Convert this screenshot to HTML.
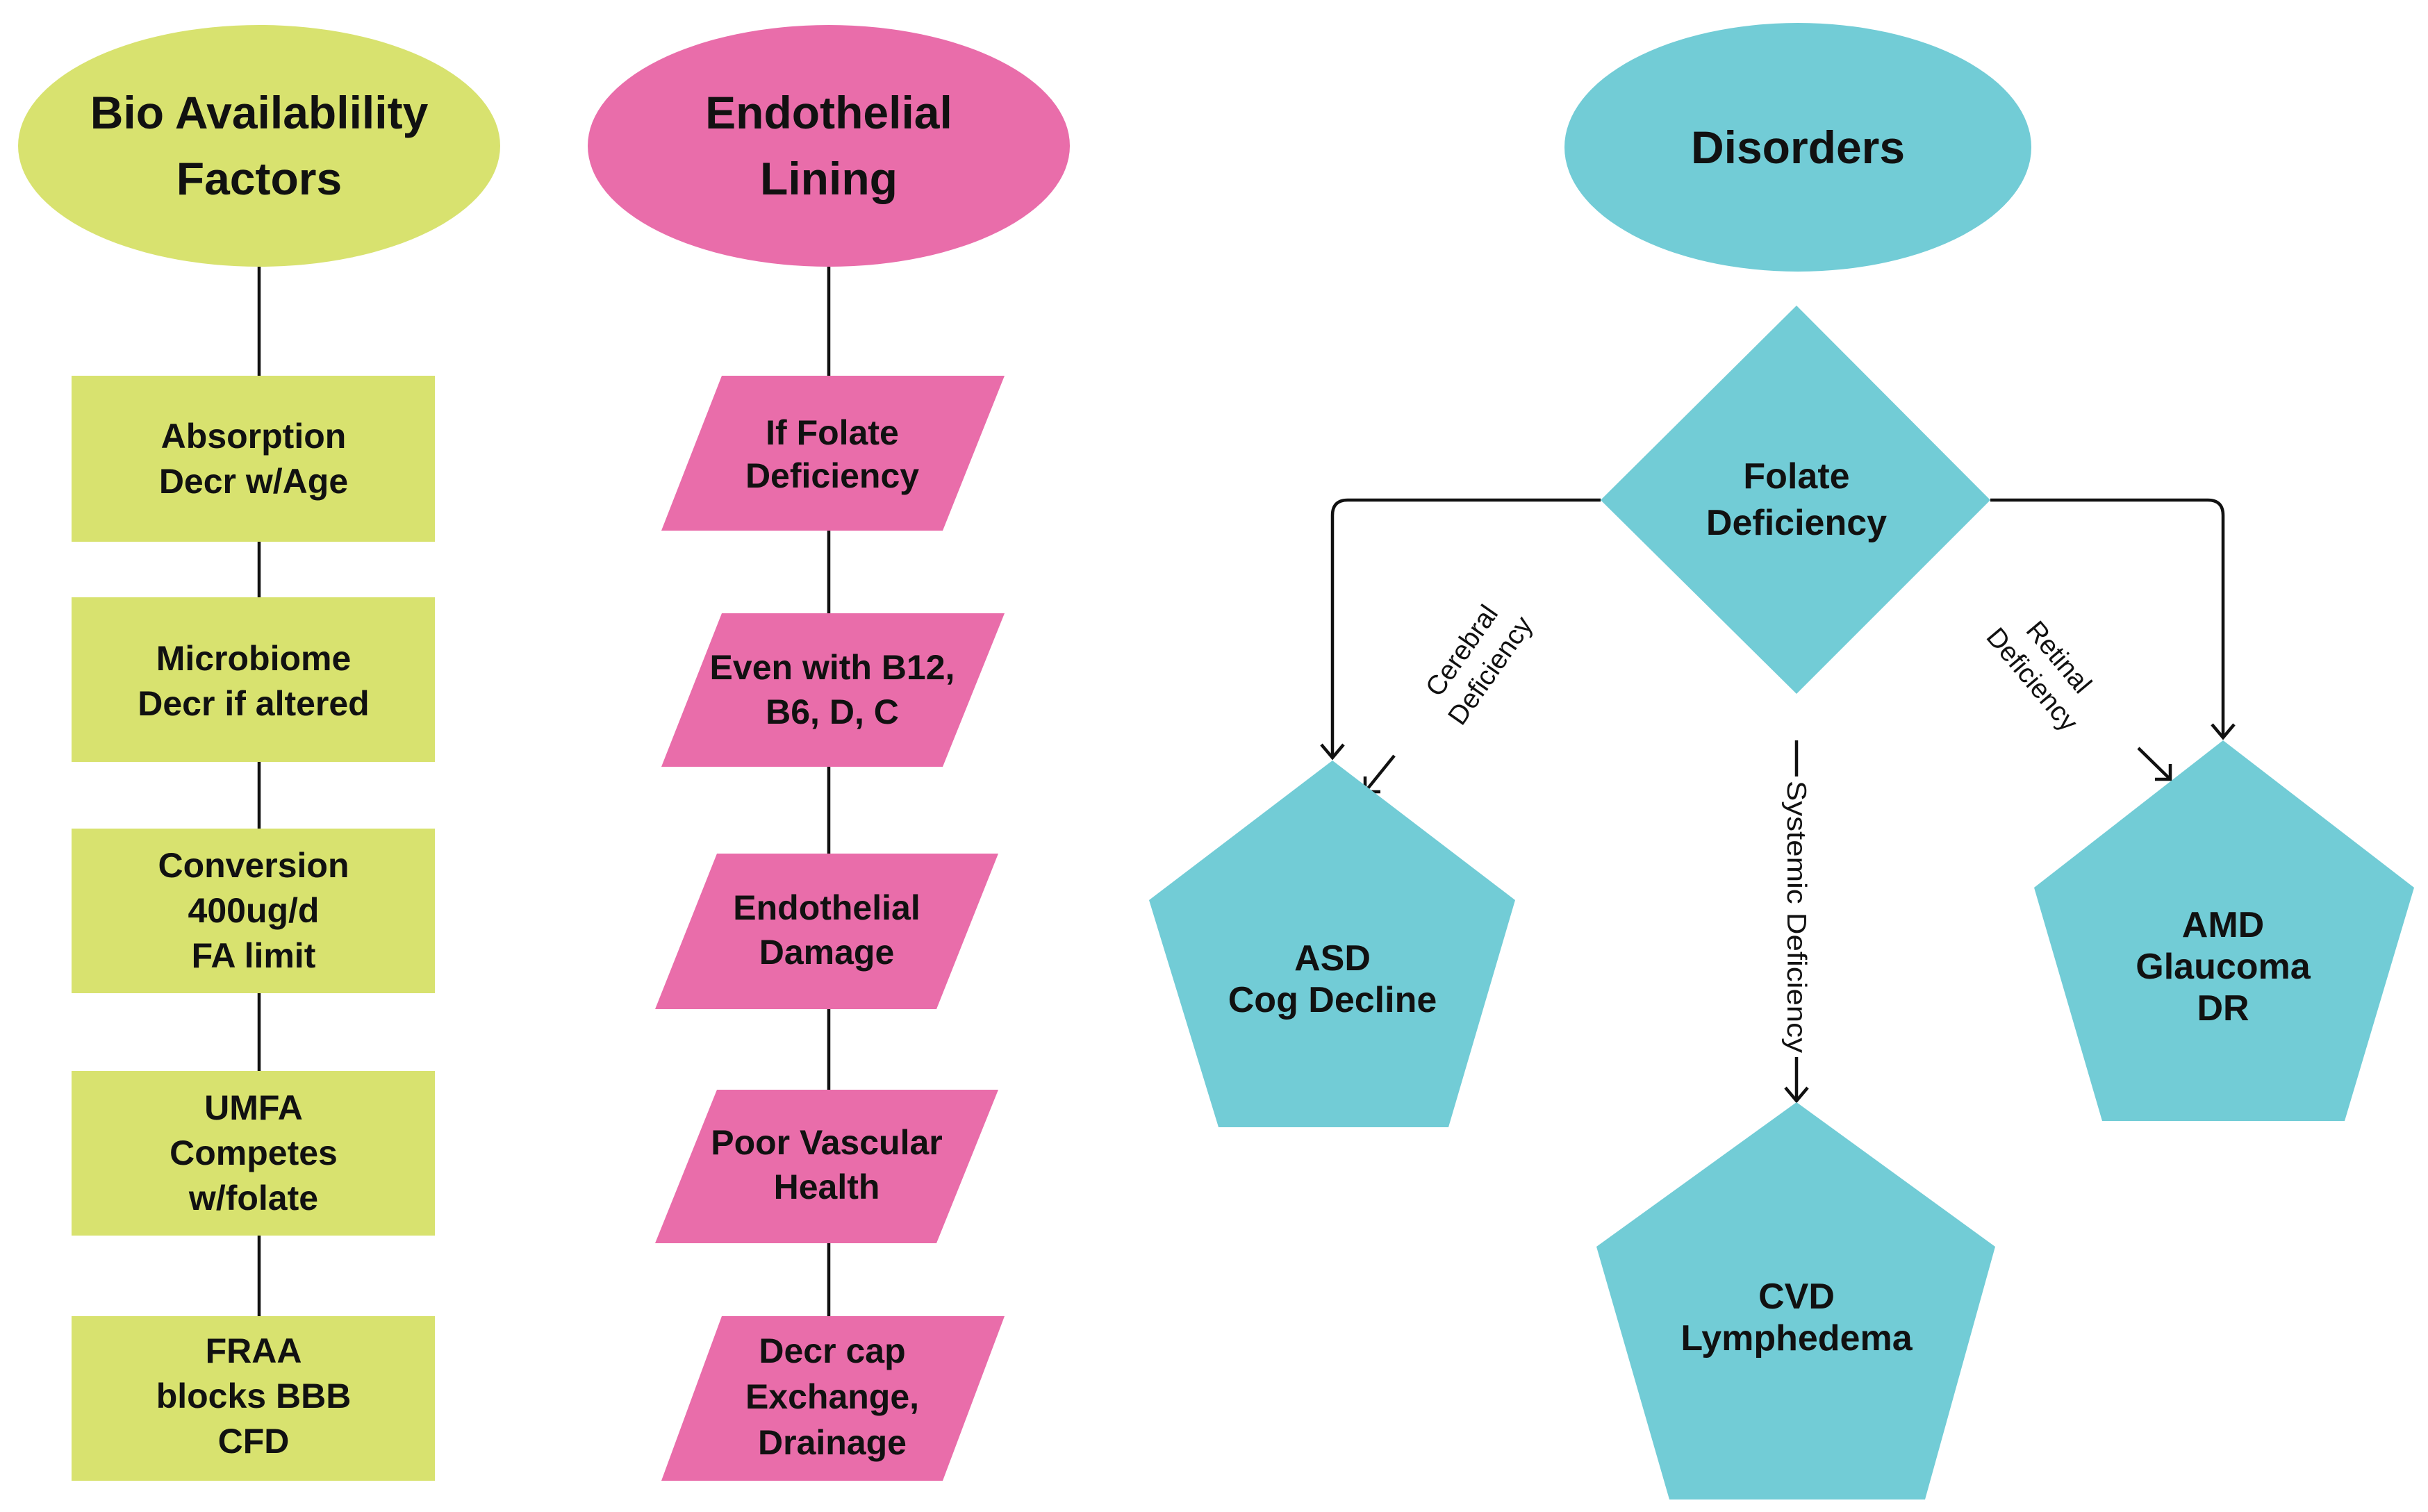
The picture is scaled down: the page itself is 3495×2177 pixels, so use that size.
<!DOCTYPE html>
<html><head><meta charset="utf-8"><style>
html,body{margin:0;padding:0;background:#fff;}
svg{display:block;}
text{font-family:"Liberation Sans",sans-serif;fill:#111;}
.t{font-size:66px;font-weight:bold;}
.b{font-size:50px;font-weight:bold;}
.p{font-size:52px;font-weight:bold;}
.l{font-size:39px;}
</style></head><body>
<svg width="3495" height="2177" viewBox="0 0 3495 2177" xmlns="http://www.w3.org/2000/svg">
<g stroke="#111" stroke-width="4.5" fill="none">
<line x1="373" y1="384" x2="373" y2="1895"/>
<line x1="1193" y1="384" x2="1193" y2="1895"/>
<path d="M2304 720 H1940 Q1918 720 1918 742 V1091"/>
<path d="M1902 1072 L1918 1091 L1934 1072"/>
<path d="M2865 720 H3178 Q3200 720 3200 742 V1062"/>
<path d="M3184 1043 L3200 1062 L3216 1043"/>
<line x1="2586" y1="1066" x2="2586" y2="1118"/>
<line x1="2586" y1="1522" x2="2586" y2="1585"/>
<path d="M2570 1566 L2586 1585 L2602 1566"/>
<line x1="2007" y1="1088" x2="1965" y2="1140"/>
<path d="M1965 1118 L1965 1140 L1987 1140"/>
<line x1="3078" y1="1077" x2="3124" y2="1122"/>
<path d="M3102 1122 L3124 1122 L3124 1100"/>
</g>
<ellipse cx="373" cy="210" rx="347" ry="174" fill="#d8e26f"/>
<ellipse cx="1193" cy="210" rx="347" ry="174" fill="#e96daa"/>
<ellipse cx="2588" cy="212" rx="336" ry="179" fill="#72ccd6"/>
<text class="t" x="373" y="185" text-anchor="middle">Bio Availablility</text>
<text class="t" x="373" y="280" text-anchor="middle">Factors</text>
<text class="t" x="1193" y="185" text-anchor="middle">Endothelial</text>
<text class="t" x="1193" y="280" text-anchor="middle">Lining</text>
<text class="t" x="2588" y="235" text-anchor="middle">Disorders</text>
<g fill="#d8e26f">
<rect x="103" y="541" width="523" height="239"/>
<rect x="103" y="860" width="523" height="237"/>
<rect x="103" y="1193" width="523" height="237"/>
<rect x="103" y="1542" width="523" height="237"/>
<rect x="103" y="1895" width="523" height="237"/>
</g>
<g class="b" text-anchor="middle">
<text x="365" y="645">Absorption</text><text x="365" y="710">Decr w/Age</text>
<text x="365" y="965">Microbiome</text><text x="365" y="1030">Decr if altered</text>
<text x="365" y="1263">Conversion</text><text x="365" y="1328">400ug/d</text><text x="365" y="1393">FA limit</text>
<text x="365" y="1612">UMFA</text><text x="365" y="1677">Competes</text><text x="365" y="1742">w/folate</text>
<text x="365" y="1962">FRAA</text><text x="365" y="2027">blocks BBB</text><text x="365" y="2092">CFD</text>
</g>
<g fill="#e96daa">
<polygon points="1039,541 1446,541 1357,764 952,764"/>
<polygon points="1039,883 1446,883 1357,1104 952,1104"/>
<polygon points="1032,1229 1437,1229 1348,1453 943,1453"/>
<polygon points="1032,1569 1437,1569 1348,1790 943,1790"/>
<polygon points="1039,1895 1446,1895 1357,2132 952,2132"/>
</g>
<g class="b" text-anchor="middle">
<text x="1198" y="640">If Folate</text><text x="1198" y="702">Deficiency</text>
<text x="1198" y="978">Even with B12,</text><text x="1198" y="1042">B6, D, C</text>
<text x="1190" y="1324">Endothelial</text><text x="1190" y="1388">Damage</text>
<text x="1190" y="1662">Poor Vascular</text><text x="1190" y="1726">Health</text>
<text x="1198" y="1962">Decr cap</text><text x="1198" y="2028">Exchange,</text><text x="1198" y="2094">Drainage</text>
</g>
<polygon points="2586,440 2865,720 2586,999 2304,720" fill="#72ccd6"/>
<text class="p" x="2586" y="703" text-anchor="middle">Folate</text>
<text class="p" x="2586" y="770" text-anchor="middle">Deficiency</text>
<g fill="#72ccd6">
<polygon points="1918,1095 2181,1296 2085,1623 1754,1623 1654,1296"/>
<polygon points="3200,1066 3475,1278 3375,1614 3026,1614 2928,1278"/>
<polygon points="2586,1587 2872,1795 2771,2159 2403,2159 2298,1795"/>
</g>
<g class="p" text-anchor="middle">
<text x="1918" y="1397">ASD</text><text x="1918" y="1457">Cog Decline</text>
<text x="3200" y="1349">AMD</text><text x="3200" y="1409">Glaucoma</text><text x="3200" y="1469">DR</text>
<text x="2586" y="1884">CVD</text><text x="2586" y="1944">Lymphedema</text>
</g>
<g class="l" text-anchor="middle">
<text transform="translate(2123,950) rotate(-55)"><tspan x="0" y="-10">Cerebral</tspan><tspan x="0" y="40">Deficiency</tspan></text>
<text transform="translate(2946,961) rotate(50)"><tspan x="0" y="-10">Retinal</tspan><tspan x="0" y="40">Deficiency</tspan></text>
<text transform="translate(2586,1320) rotate(90)" y="13" textLength="392" lengthAdjust="spacingAndGlyphs">Systemic Deficiency</text>
</g>
</svg>
</body></html>
